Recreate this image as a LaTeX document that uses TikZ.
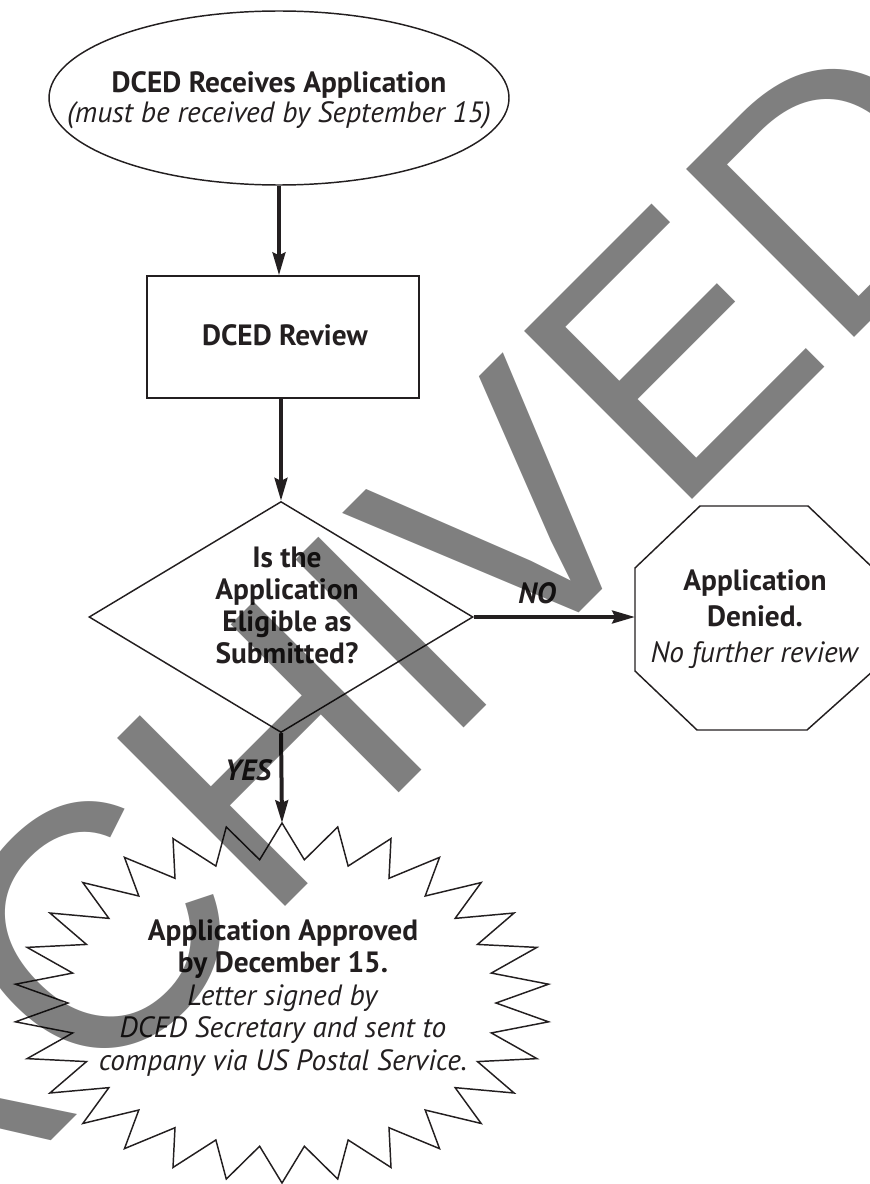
\documentclass[tikz,border=0pt]{standalone}
\usepackage{fontspec}
\setmainfont{PT Sans}
\newfontfamily\stampfont{Liberation Sans}
\usetikzlibrary{shapes.geometric,arrows.meta}

\definecolor{ink}{RGB}{35,31,32}
\tikzset{every picture/.style={line width=1.1pt}}
\tikzset{
  outline/.style={draw=ink, line width=1.1pt},
  flowarrow/.style={draw=ink, line width=3pt, -{Stealth[length=17pt,width=9.5pt,inset=2pt]}},
  flowtext/.style={text=ink, align=center, inner sep=0.75pt, font=\fontsize{22}{24}\selectfont},
  answer/.style={text=ink, inner sep=0.75pt, font=\fontsize{22}{24}\selectfont\bfseries\itshape},
  stamp/.style={text=black, text opacity=0.5, rotate=45, inner sep=0pt, anchor=base, font=\stampfont\fontsize{259}{259}\selectfont}
}

\begin{document}
\begin{tikzpicture}[x=0.75pt,y=0.75pt,yscale=-1,xscale=1]
\useasboundingbox (0,0) rectangle (869,1184);

%Shape: Ellipse
\node [outline, ellipse, minimum width=345pt, minimum height=130.5pt, inner sep=0pt] (receive) at (279,98) {};
% Text Node
\node [flowtext, font=\fontsize{22}{22.5}\selectfont] (receive text) at (279,100) {\textbf{DCED Receives Application}\\\textit{(must be received by September 15)}};

%Shape: Rectangle
\node [outline, rectangle, minimum width=204pt, minimum height=91.5pt, inner sep=0pt] (review) at (283,337) {};
% Text Node
\node [flowtext] (review text) at (285,335) {\textbf{DCED Review}};

%Shape: Diamond
\node [outline, diamond, minimum width=288pt, minimum height=173.25pt, inner sep=0pt] (eligible) at (281,617) {};
% Text Node
\node [flowtext, font=\fontsize{22}{24}\selectfont\bfseries] (eligible text) at (287,605) {Is the\\Application\\Eligible as\\Submitted?};

%Shape: Octagon
\draw [outline, shift={(754,618)}] (-54,-112) -- (54,-112) -- (119,-50) -- (119,53) -- (53,112) -- (-57,112) -- (-119,53) -- (-119,-50) -- cycle ;
\coordinate (denied west) at (635,617);
% Text Node
\node [flowtext, font=\fontsize{22}{27}\selectfont] (denied) at (755,619) {\textbf{Application}\\\textbf{Denied.}\\\textit{No further review}};

%Shape: Starburst
\draw [outline, shift={(282,1003)}] plot [samples at={0,...,59}, variable=\k] ({(268-54*mod(\k,2))*cos(6*\k-90)},{(180-36*mod(\k,2))*sin(6*\k-90)}) -- cycle ;
\coordinate (burst top) at (282,823);
% Text Node
\node [flowtext, font=\fontsize{22}{24.4}\selectfont] (approved) at (283,998) {\textbf{Application Approved}\\\textbf{by December 15.}\\\textit{Letter signed by}\\\textit{DCED Secretary and sent to}\\\textit{company via US Postal Service.}};

%Straight Lines
\draw [flowarrow] (receive.south) -- (receive.south |- review.north) ;
%Straight Lines
\draw [flowarrow] (eligible.north |- review.south) -- (eligible.north) ;
%Straight Lines
\draw [flowarrow] (eligible.east) -- (denied west) ;
%Straight Lines
\draw [flowarrow] (eligible.south) -- (burst top) ;

% Text Node
\node [answer] (no) at (537,593) {NO};
% Text Node
\node [answer] (yes) at (248,770) {YES};

% Text Node
\node [stamp] (archived) at (380.5,811.5) {ARCHIVED};

\end{tikzpicture}
\end{document}
